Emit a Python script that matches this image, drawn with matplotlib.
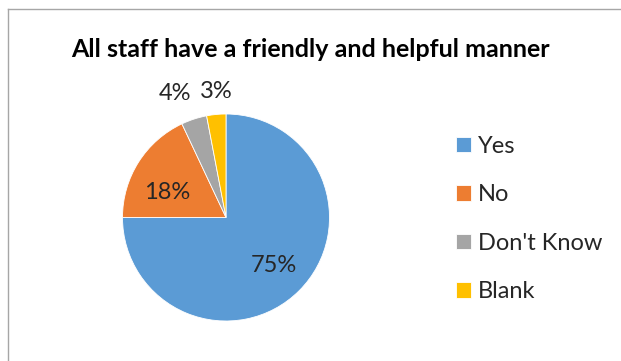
import numpy as np
import matplotlib
matplotlib.use('Agg')
import matplotlib.pyplot as plt
from matplotlib.lines import Line2D

plt.rcParams['font.family'] = ['Lato', 'DejaVu Sans']

# survey answers
title = 'All staff have a friendly and helpful manner'
answers = ['Yes', 'No', "Don't Know", 'Blank']
shares = [75, 18, 4, 3]
colours = ['#5B9BD5', '#ED7D31', '#A5A5A5', '#FFC000']

W, H = 621, 361
fig = plt.figure(figsize=(W / 100, H / 100), dpi=100)

# chart border (top and left edges only)
fig.add_artist(Line2D([8 / W, 8 / W], [0, 1 - 9 / H], color='#a6a6a6', lw=1.0))
fig.add_artist(Line2D([8 / W, 1], [1 - 9 / H, 1 - 9 / H], color='#a6a6a6', lw=1.0))

fig.text(310 / W, 1 - 57 / H, title, ha='center', va='baseline',
         fontsize=18, fontweight='bold', color='#000000')

# pie area: centre (226, 217.5) px, radius 103.5 px
cx, cy, r = 226, 217.5, 103.5
ax = fig.add_axes([(cx - r) / W, (H - cy - r) / H, 2 * r / W, 2 * r / H])
wedges, _ = ax.pie(shares, colors=colours, startangle=90, counterclock=False,
                   radius=1, wedgeprops=dict(edgecolor='white', linewidth=0.6))
ax.set_xlim(-1, 1)
ax.set_ylim(-1, 1)
ax.set_aspect('equal')
ax.axis('off')

# label placement: radial distance and angular nudge per slice
label_r = [0.65, 0.62, 1.30, 1.22]
label_nudge = [0, 9, 4.5, -0.8]
for w, val, rr, nd in zip(wedges, shares, label_r, label_nudge):
    ang = np.deg2rad((w.theta1 + w.theta2) / 2 + nd)
    ax.text(rr * np.cos(ang), rr * np.sin(ang), '%d%%' % val,
            ha='center', va='center', fontsize=17, color='#262626',
            clip_on=False)

fig.legend(wedges, answers, loc='center left',
           bbox_to_anchor=(456 / W, 1 - 219 / H), frameon=False,
           fontsize=17, handlelength=0.62, handleheight=0.62,
           handletextpad=0.3, labelspacing=1.17, borderpad=0,
           borderaxespad=0, labelcolor='#262626')

fig.savefig('out.png', dpi=100, facecolor='white')
